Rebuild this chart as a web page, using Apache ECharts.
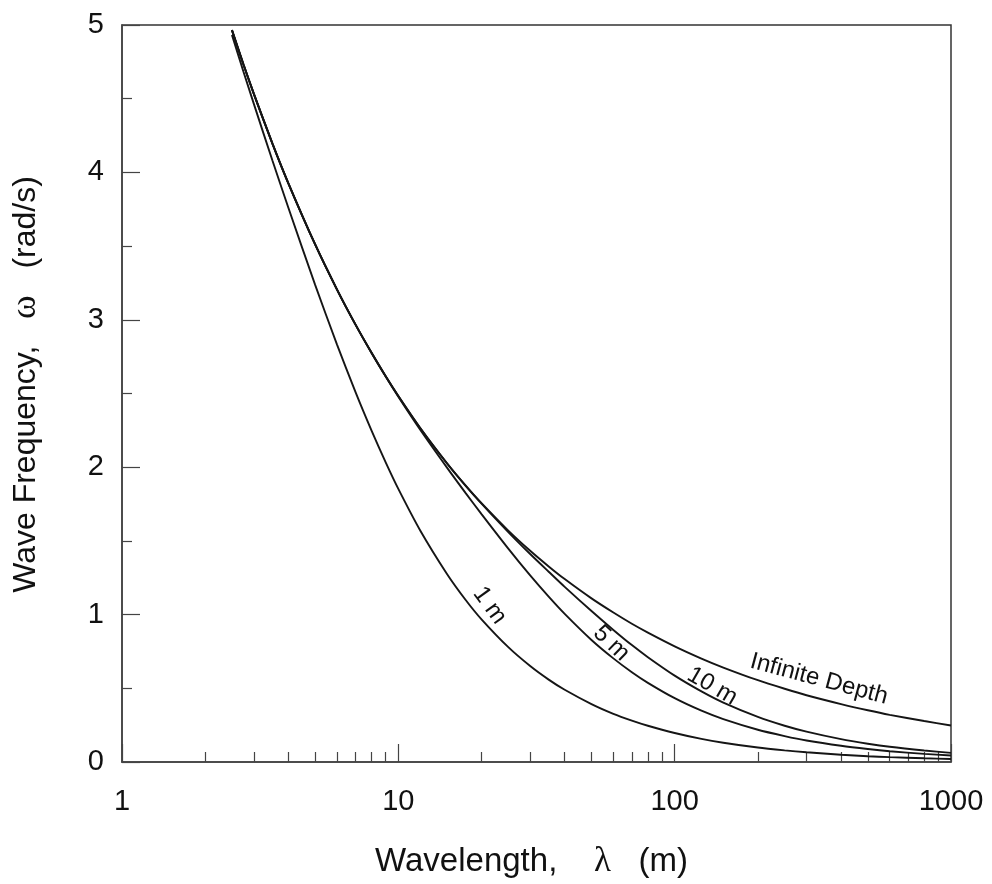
<!DOCTYPE html>
<html>
<head>
<meta charset="utf-8">
<title>Wave Frequency vs Wavelength</title>
<script src="https://cdn.jsdelivr.net/npm/echarts@6/dist/echarts.min.js"></script>
<style>
  html, body { margin: 0; padding: 0; background: #ffffff; }
  #chart { width: 992px; height: 884px; }
</style>
</head>
<body>
<div id="chart"></div>
<script>
// Wavelength samples (m)
const wavelengths = [2.5, 2.75, 3, 3.5, 4, 5, 6, 7, 8, 9, 10, 12, 15, 17.5, 20, 25, 30, 35, 40, 50, 60, 70, 80, 100, 125, 150, 200, 250, 300, 400, 500, 600, 800, 1000];

// Wave frequency (rad/s) for each water depth
const omegaInfinite = [4.965, 4.734, 4.533, 4.197, 3.926, 3.511, 3.205, 2.967, 2.776, 2.617, 2.483, 2.266, 2.027, 1.877, 1.756, 1.570, 1.433, 1.327, 1.241, 1.110, 1.014, 0.938, 0.878, 0.785, 0.702, 0.641, 0.555, 0.497, 0.453, 0.393, 0.351, 0.320, 0.278, 0.248];
const omega10m = [4.965, 4.734, 4.533, 4.197, 3.926, 3.511, 3.205, 2.967, 2.776, 2.617, 2.483, 2.266, 2.026, 1.875, 1.753, 1.560, 1.411, 1.291, 1.188, 1.024, 0.896, 0.793, 0.711, 0.586, 0.479, 0.403, 0.306, 0.246, 0.206, 0.155, 0.124, 0.103, 0.078, 0.062];
const omega5m = [4.965, 4.734, 4.533, 4.197, 3.926, 3.511, 3.205, 2.967, 2.775, 2.615, 2.478, 2.254, 1.997, 1.826, 1.682, 1.448, 1.266, 1.122, 1.005, 0.828, 0.703, 0.609, 0.537, 0.433, 0.348, 0.291, 0.219, 0.176, 0.146, 0.110, 0.088, 0.073, 0.055, 0.044];
const omega1m = [4.933, 4.685, 4.465, 4.082, 3.760, 3.237, 2.832, 2.509, 2.248, 2.033, 1.853, 1.571, 1.276, 1.101, 0.968, 0.779, 0.651, 0.559, 0.490, 0.393, 0.327, 0.281, 0.246, 0.197, 0.157, 0.131, 0.098, 0.079, 0.066, 0.049, 0.039, 0.033, 0.025, 0.020];

// Axis ticks
const xMajorTicks = [1, 10, 100, 1000];
const xMinorTicks = [2, 3, 4, 5, 6, 7, 8, 9, 20, 30, 40, 50, 60, 70, 80, 90, 200, 300, 400, 500, 600, 700, 800, 900];
const yTicks = [0, 1, 2, 3, 4, 5];

// Curve captions: text, anchor wavelength, anchor frequency, angle (deg)
const captionText = ['1 m', '5 m', '10 m', 'Infinite Depth'];
const captionLambda = [21.4, 59.0, 136.8, 333];
const captionOmega = [1.062, 0.805, 0.514, 0.562];
const captionAngle = [54, 44, 30, 15];

const FONT = 'Liberation Sans, Arial, sans-serif';
const SERIF = 'Liberation Serif, DejaVu Serif, serif';
const INK = '#151515';
const AXIS = '#444444';

function pairs(ys) {
  return wavelengths.map((x, i) => [x, ys[i]]);
}

function curve(name, ys) {
  return {
    name: name,
    type: 'line',
    xAxisIndex: 0,
    yAxisIndex: 0,
    data: pairs(ys),
    showSymbol: false,
    smooth: 0.25,
    lineStyle: { color: INK, width: 1.9 },
    silent: true,
    animation: false
  };
}

const chart = echarts.init(document.getElementById('chart'), null, { renderer: 'canvas' });

const option = {
  backgroundColor: '#ffffff',
  animation: false,
  grid: {
    left: 121, right: 41, top: 25, bottom: 120,
    show: true, borderColor: '#333333', borderWidth: 1.5, backgroundColor: 'transparent'
  },
  xAxis: [
    {
      type: 'log',
      logBase: 10,
      min: xMajorTicks[0],
      max: xMajorTicks[xMajorTicks.length - 1],
      position: 'bottom',
      axisLine: { show: true, lineStyle: { color: AXIS, width: 1.5 } },
      axisTick: { show: true, inside: true, length: 18, lineStyle: { color: AXIS, width: 1.2 } },
      axisLabel: {
        show: true, margin: 25, color: '#111',
        fontFamily: FONT, fontSize: 29,
        formatter: v => String(Math.round(v))
      },
      splitLine: { show: false },
      name: 'Wavelength,    {g|λ}   (m)',
      nameLocation: 'middle',
      nameGap: 82,
      nameTextStyle: {
        color: '#111', fontFamily: FONT, fontSize: 33,
        padding: [0, 10, 0, 0],
        rich: { g: { fontFamily: SERIF, fontSize: 35, color: '#111' } }
      }
    },
    {
      // minor decade ticks, placed on a linear log10 scale
      type: 'value',
      min: Math.log10(xMajorTicks[0]),
      max: Math.log10(xMajorTicks[xMajorTicks.length - 1]),
      position: 'bottom',
      axisLine: { show: false },
      axisLabel: { show: false },
      splitLine: { show: false },
      axisTick: {
        show: true, inside: true, length: 10,
        customValues: xMinorTicks.map(v => Math.log10(v)),
        lineStyle: { color: AXIS, width: 1.2 }
      }
    }
  ],
  yAxis: [
    {
      type: 'value',
      min: yTicks[0],
      max: yTicks[yTicks.length - 1],
      interval: 1,
      axisLine: { show: true, lineStyle: { color: AXIS, width: 1.5 } },
      axisTick: { show: true, inside: true, length: 18, lineStyle: { color: AXIS, width: 1.2 } },
      minorTick: { show: true, splitNumber: 2, length: 10, lineStyle: { color: AXIS, width: 1.2 } },
      axisLabel: { show: true, margin: 18, color: '#111', fontFamily: FONT, fontSize: 29 },
      splitLine: { show: false },
      minorSplitLine: { show: false },
      name: 'Wave Frequency,   {g|ω}   (rad/s)',
      nameLocation: 'middle',
      nameRotate: 90,
      nameGap: 78,
      nameTextStyle: {
        color: '#111', fontFamily: FONT, fontSize: 32,
        padding: [0, 0, 0, 18],
        rich: { g: { fontFamily: SERIF, fontSize: 36, color: '#111' } }
      }
    }
  ],
  series: [
    curve('Infinite Depth', omegaInfinite),
    curve('10 m', omega10m),
    curve('5 m', omega5m),
    curve('1 m', omega1m)
  ]
};

chart.setOption(option);

// Captions placed along the curves, positioned through the axes
const captions = captionText.map((t, i) => {
  const p = chart.convertToPixel({ xAxisIndex: 0, yAxisIndex: 0 }, [captionLambda[i], captionOmega[i]]);
  return {
    type: 'text',
    x: p[0],
    y: p[1],
    rotation: -captionAngle[i] * Math.PI / 180,
    silent: true,
    style: {
      text: t,
      fill: '#111',
      font: '24px ' + FONT,
      align: 'center',
      verticalAlign: 'middle'
    }
  };
});
chart.setOption({ graphic: captions });
</script>
</body>
</html>
